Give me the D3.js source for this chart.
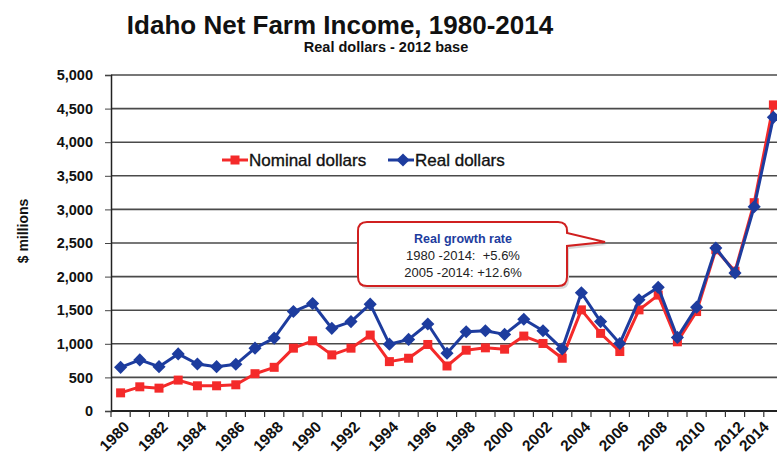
<!DOCTYPE html>
<html>
<head>
<meta charset="utf-8">
<script src="https://cdn.jsdelivr.net/npm/d3@7"></script>
<style>
  html, body { margin: 0; padding: 0; background: #fff; }
  svg { display: block; font-family: "Liberation Sans", Arial, sans-serif; }
</style>
</head>
<body>
<svg id="chart" width="777" height="459"></svg>
<script>
const years = d3.range(1980, 2015);
const realDollars = [650, 760, 660, 850, 700, 660, 695, 935, 1085, 1480, 1600, 1230, 1330, 1590, 995, 1065, 1295, 860, 1180, 1195, 1140, 1365, 1195, 925, 1760, 1330, 1005, 1655, 1840, 1095, 1545, 2425, 2055, 3040, 4370];
const nominalDollars = [270, 360, 340, 460, 375, 375, 390, 555, 650, 935, 1045, 835, 935, 1130, 735, 785, 990, 670, 905, 940, 920, 1115, 1005, 785, 1505, 1155, 885, 1505, 1725, 1030, 1480, 2400, 2080, 3100, 4555];
const yTicks = [0, 500, 1000, 1500, 2000, 2500, 3000, 3500, 4000, 4500, 5000];
const xLabelYears = years.filter(y => (y - 1980) % 2 === 0);
const titleText = "Idaho Net Farm Income, 1980-2014";
const subtitleText = "Real dollars - 2012 base";
const yLabelText = "$ millions";
const legendNames = ["Nominal dollars", "Real dollars"];
const calloutLines = ["Real growth rate", "1980 -2014:  +5.6%", "2005 -2014: +12.6%"];

const RED = "#f42a2a", BLUE = "#1d3c9e", GRID = "#4a4a4a";
const svg = d3.select("#chart");

const x = d3.scaleBand().domain(years).range([111, 783]).padding(0);
const y = d3.scaleLinear().domain([0, 5000]).range([411, 75]);
const cx = d => x(d) + x.bandwidth() / 2;

// title
svg.append("text").attr("x", 340).attr("y", 34).attr("text-anchor", "middle")
  .attr("font-size", 26).attr("font-weight", "bold").attr("fill", "#111").text(titleText);
svg.append("text").attr("x", 386).attr("y", 52).attr("text-anchor", "middle")
  .attr("font-size", 14.5).attr("font-weight", "bold").attr("fill", "#111").text(subtitleText);

// gridlines
svg.append("g").selectAll("line").data(yTicks.filter(v => v > 0)).join("line")
  .attr("x1", 111).attr("x2", 777).attr("y1", d => y(d)).attr("y2", d => y(d))
  .attr("stroke", GRID).attr("stroke-width", 1.6);

// y axis
const yAxis = d3.axisLeft(y).tickValues(yTicks).tickSize(6).tickPadding(12)
  .tickFormat(d3.format(","));
const gy = svg.append("g").attr("transform", "translate(111,0)").call(yAxis);
gy.select(".domain").attr("stroke", "#222").attr("stroke-width", 1.5);
gy.selectAll(".tick line").attr("stroke", "#444");
gy.selectAll(".tick text").attr("font-size", 14.5).attr("font-weight", "bold")
  .attr("fill", "#111").attr("font-family", "Liberation Sans, Arial, sans-serif");

svg.append("text").attr("transform", "translate(28,231) rotate(-90)")
  .attr("text-anchor", "middle").attr("font-size", 14).attr("font-weight", "bold")
  .attr("fill", "#111").text(yLabelText);

// x axis
svg.append("line").attr("x1", 111).attr("x2", 777).attr("y1", y(0)).attr("y2", y(0))
  .attr("stroke", "#222").attr("stroke-width", 2);
const boundaries = years.map(d => x(d)).concat([x(2014) + x.bandwidth()]);
svg.append("g").selectAll("line").data(boundaries).join("line")
  .attr("x1", d => d).attr("x2", d => d).attr("y1", y(0)).attr("y2", y(0) + 6)
  .attr("stroke", "#333").attr("stroke-width", 1.2);
svg.append("g").selectAll("text").data(xLabelYears).join("text")
  .attr("transform", d => {
    const px = Math.min(cx(d) + 6, 766);
    return `translate(${px},${y(0) + 13}) rotate(-45)`;
  })
  .attr("text-anchor", "end").attr("dy", "0.35em")
  .attr("font-size", 15.5).attr("font-weight", "bold").attr("fill", "#111").text(d => d);

// lines
const line = d3.line().x((d, i) => cx(years[i])).y(d => y(d));
svg.append("path").datum(nominalDollars).attr("d", line).attr("fill", "none")
  .attr("stroke", RED).attr("stroke-width", 3).attr("stroke-linejoin", "round");
svg.append("g").selectAll("rect").data(nominalDollars).join("rect")
  .attr("x", (d, i) => cx(years[i]) - 4.5).attr("y", d => y(d) - 4.5)
  .attr("width", 9).attr("height", 9).attr("fill", RED);

svg.append("path").datum(realDollars).attr("d", line).attr("fill", "none")
  .attr("stroke", BLUE).attr("stroke-width", 3).attr("stroke-linejoin", "round");
const diamond = d3.symbol().type(d3.symbolDiamond2).size(110);
svg.append("g").selectAll("path").data(realDollars).join("path")
  .attr("transform", (d, i) => `translate(${cx(years[i])},${y(d)})`)
  .attr("d", diamond).attr("fill", BLUE);

// legend
const leg = [
  {name: legendNames[0], color: RED, x: 222, marker: "square"},
  {name: legendNames[1], color: BLUE, x: 388, marker: "diamond"}
];
const ly = 160;
leg.forEach(l => {
  svg.append("line").attr("x1", l.x).attr("x2", l.x + 26).attr("y1", ly).attr("y2", ly)
    .attr("stroke", l.color).attr("stroke-width", 3);
  if (l.marker === "square") {
    svg.append("rect").attr("x", l.x + 13 - 4.5).attr("y", ly - 4.5).attr("width", 9).attr("height", 9).attr("fill", l.color);
  } else {
    svg.append("path").attr("transform", `translate(${l.x + 15},${ly})`).attr("d", diamond).attr("fill", l.color);
  }
  svg.append("text").attr("x", l.x + 27).attr("y", ly + 6).attr("font-size", 17)
    .attr("fill", "#111").attr("stroke", "#111").attr("stroke-width", 0.35).text(l.name);
});

// callout
const bx0 = 358, by0 = 222, bx1 = 567, by1 = 286, r = 9;
const calloutPath = `M${bx0 + r},${by0} L${bx1 - r},${by0} Q${bx1},${by0} ${bx1},${by0 + r} L${bx1},${by0 + 11}
  L605,242 L${bx1},${by0 + 24} L${bx1},${by1 - r} Q${bx1},${by1} ${bx1 - r},${by1}
  L${bx0 + r},${by1} Q${bx0},${by1} ${bx0},${by1 - r} L${bx0},${by0 + r} Q${bx0},${by0} ${bx0 + r},${by0} Z`;
svg.append("path").attr("d", calloutPath).attr("transform", "translate(2,3)")
  .attr("fill", "#d8d8d8");
svg.append("path").attr("d", calloutPath).attr("fill", "#fff")
  .attr("stroke", "#d02020").attr("stroke-width", 2);
calloutLines.forEach((t, i) => {
  svg.append("text").attr("x", 463).attr("y", 243 + i * 17).attr("text-anchor", "middle")
    .style("white-space", "pre").attr("xml:space", "preserve")
    .attr("font-size", i === 0 ? 12.5 : 13).attr("font-weight", i === 0 ? "bold" : "normal")
    .attr("fill", i === 0 ? "#1d3c9e" : "#222").text(t);
});
</script>
</body>
</html>
